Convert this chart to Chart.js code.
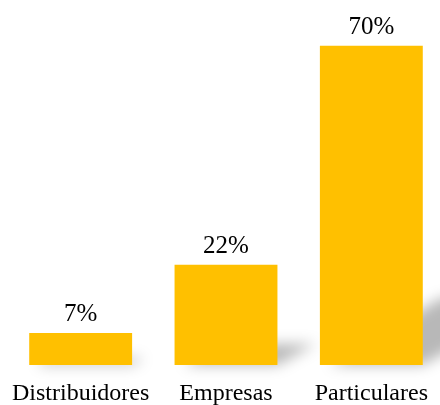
<!DOCTYPE html>
<html>
<head>
<meta charset="utf-8">
<script src="https://cdn.jsdelivr.net/npm/chart.js@4.4.0/dist/chart.umd.min.js"></script>
<style>
  html, body { margin: 0; padding: 0; background: #ffffff; overflow: hidden; }
  canvas { display: block; }
</style>
</head>
<body>
<canvas id="c" width="446" height="405"></canvas>
<script>
const categories = ["Distribuidores", "Empresas", "Particulares"];
const values = [7, 22, 70];
const valueLabels = ["7%", "22%", "70%"];

const FONT = "'Liberation Serif', 'Times New Roman', serif";

const shadowPlugin = {
  id: 'barShadow',
  beforeDatasetsDraw(chart) {
    const ctx = chart.ctx;
    const meta = chart.getDatasetMeta(0);
    ctx.save();
    ctx.filter = 'blur(7px)';
    ctx.fillStyle = 'rgba(0,0,0,0.28)';
    meta.data.forEach(bar => {
      const p = bar.getProps(['x', 'y', 'base', 'width'], true);
      const left = p.x - p.width / 2;
      const right = p.x + p.width / 2;
      const h = p.base - p.y;
      const dx = h * 0.38;
      const topY = p.base - h * 0.21;
      ctx.beginPath();
      ctx.moveTo(left + 10, p.base);
      ctx.lineTo(right, p.base);
      ctx.lineTo(right + dx, topY);
      ctx.lineTo(left + dx, topY);
      ctx.closePath();
      ctx.fill();
    });
    ctx.restore();
  }
};

const labelPlugin = {
  id: 'valueLabels',
  afterDatasetsDraw(chart) {
    const ctx = chart.ctx;
    const meta = chart.getDatasetMeta(0);
    ctx.save();
    ctx.font = "25px " + FONT;
    ctx.fillStyle = '#000000';
    ctx.textAlign = 'center';
    ctx.textBaseline = 'alphabetic';
    meta.data.forEach((bar, i) => {
      const p = bar.getProps(['x', 'y'], true);
      ctx.fillText(valueLabels[i], p.x, p.y - 12);
    });
    ctx.restore();
  }
};

new Chart(document.getElementById('c'), {
  type: 'bar',
  data: {
    labels: categories,
    datasets: [{
      data: values,
      backgroundColor: '#FFC000',
      borderWidth: 0,
      barPercentage: 0.708,
      categoryPercentage: 1.0
    }]
  },
  options: {
    responsive: false,
    maintainAspectRatio: false,
    animation: false,
    devicePixelRatio: 1,
    layout: { padding: { left: 8, right: 2, top: 0, bottom: 0 } },
    plugins: {
      legend: { display: false },
      tooltip: { enabled: false }
    },
    scales: {
      x: {
        grid: { display: false, drawTicks: false },
        border: { display: false },
        ticks: {
          color: '#000000',
          padding: 17,
          font: { family: FONT, size: 24, lineHeight: 1.0 }
        },
        afterFit(scale) {
          scale.height = 40;
          scale.paddingLeft = 0;
          scale.paddingRight = 0;
        }
      },
      y: {
        display: false,
        min: 0,
        max: 80
      }
    }
  },
  plugins: [shadowPlugin, labelPlugin]
});
</script>
</body>
</html>
